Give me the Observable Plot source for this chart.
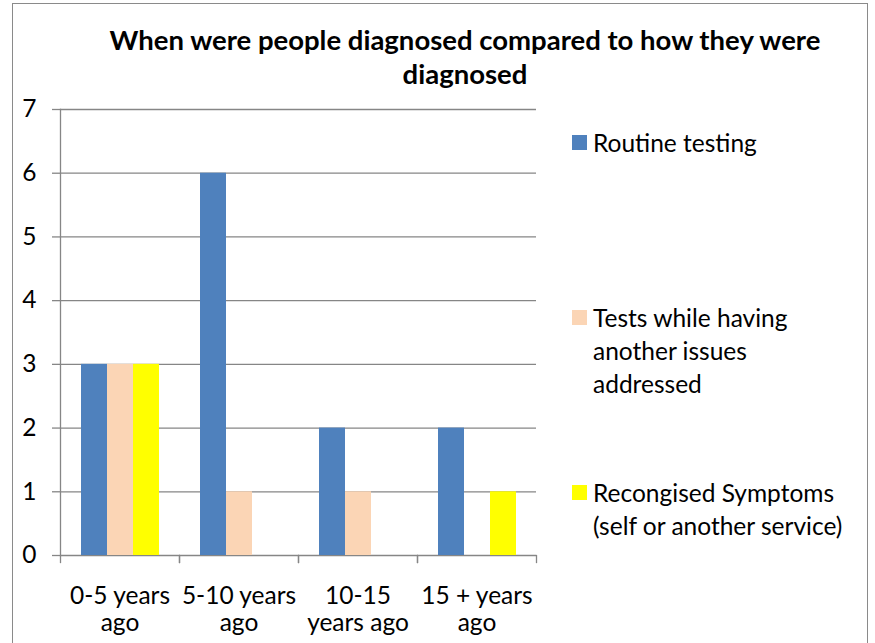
<!DOCTYPE html>
<html>
<head>
<meta charset="utf-8">
<script src="https://cdn.jsdelivr.net/npm/d3@7"></script>
<script src="https://cdn.jsdelivr.net/npm/@observablehq/plot@0.6"></script>
<style>
  html, body { margin: 0; padding: 0; background: #fff; }
  #wrap { position: relative; width: 875px; height: 643px; overflow: hidden; background: #fff; font-family: Lato, "Open Sans", sans-serif; }
  #chart { position: absolute; left: 0; top: 0; }
  #border { position: absolute; left: 12px; top: 3px; width: 856px; height: 700px; border: 1.5px solid #8a8a8a; box-sizing: border-box; pointer-events: none; }
  #title { position: absolute; left: 40px; width: 850px; top: 23px; text-align: center; font-weight: bold; font-size: 27.5px; line-height: 34px; color: #000; }
  .leg { position: absolute; left: 572px; font-size: 24.5px; line-height: 33px; color: #000; }
  .leg .sw { position: absolute; left: 0; top: 9px; width: 15px; height: 15px; }
  .leg .lbl { margin-left: 21px; white-space: pre; }
</style>
</head>
<body>
<div id="wrap">
  <div id="chart"></div>
  <div id="border"></div>
  <div id="title"></div>
  <div id="legend"></div>
</div>
<script>
// ---- data ----
const titleText = "When were people diagnosed compared to how they were\ndiagnosed";
const periods = ["0-5 years ago", "5-10 years ago", "10-15 years ago", "15 + years ago"];
const periodTickLabels = ["0-5 years\nago", "5-10 years\nago", "10-15\nyears ago", "15 + years\nago"];
const seriesNames = ["Routine testing", "Tests while having another issues addressed", "Recongised Symptoms (self or another service)"];
const legendLabels = ["Routine testing", "Tests while having\nanother issues\naddressed", "Recongised Symptoms\n(self or another service)"];
const seriesColors = ["#4F81BD", "#FBD5B5", "#FFFF00"];
const routineTesting = [3, 6, 2, 2];
const testsWhileOther = [3, 1, 1, 0];
const recognisedSymptoms = [3, 0, 0, 1];
const yTicks = [0, 1, 2, 3, 4, 5, 6, 7];

const seriesValues = [routineTesting, testsWhileOther, recognisedSymptoms];
const rows = [];
periods.forEach((p, i) => seriesNames.forEach((s, j) => rows.push({period: p, series: s, value: seriesValues[j][i]})));

const gridColor = "#868686";
const plotH = 643 - 109 - 88;

const chart = Plot.plot({
  width: 875,
  height: 643,
  marginTop: 109,
  marginBottom: 88,
  marginLeft: 60,
  marginRight: 339,
  style: {fontFamily: "Lato, 'Open Sans', sans-serif", fontSize: "24.5px", background: "transparent", color: "#000"},
  fx: {domain: periods, padding: 0, label: null, axis: null},
  x: {domain: seriesNames, paddingInner: 0, paddingOuter: 0.75, axis: null},
  y: {domain: [0, 7], label: null, axis: null},
  color: {domain: seriesNames, range: seriesColors},
  marks: [
    Plot.gridY(yTicks, {stroke: gridColor, strokeOpacity: 1, strokeWidth: 1.3}),
    Plot.barY(rows, {fx: "period", x: "series", y: "value", fill: "series"}),
    Plot.axisY(yTicks, {tickSize: 8, tickPadding: 16, stroke: gridColor, strokeWidth: 1.3, fill: "#000", label: null,
      fontSize: 24.5, tickFormat: d => String(d)}),
    Plot.axisFx({anchor: "bottom", tickSize: 0, tickPadding: 29, label: null, fontSize: 24.5, lineHeight: 1.1,
      tickFormat: d => periodTickLabels[periods.indexOf(d)]}),
    Plot.frame({anchor: "left", facetAnchor: "left", stroke: gridColor, strokeWidth: 1.3}),
    Plot.frame({anchor: "left", stroke: gridColor, strokeWidth: 1.3, insetTop: plotH, insetBottom: -7}),
    Plot.frame({anchor: "right", stroke: gridColor, strokeWidth: 1.3, insetTop: plotH, insetBottom: -7})
  ]
});
document.getElementById("chart").appendChild(chart);

// title
const t = document.getElementById("title");
titleText.split("\n").forEach(line => { const d = document.createElement("div"); d.textContent = line; t.appendChild(d); });

// legend
const legendTops = [126, 301, 476];
const legend = document.getElementById("legend");
seriesNames.forEach((s, i) => {
  const item = document.createElement("div");
  item.className = "leg";
  item.style.top = legendTops[i] + "px";
  const sw = document.createElement("div");
  sw.className = "sw";
  sw.style.background = seriesColors[i];
  const lbl = document.createElement("div");
  lbl.className = "lbl";
  lbl.textContent = legendLabels[i];
  item.appendChild(sw); item.appendChild(lbl);
  legend.appendChild(item);
});
</script>
</body>
</html>
